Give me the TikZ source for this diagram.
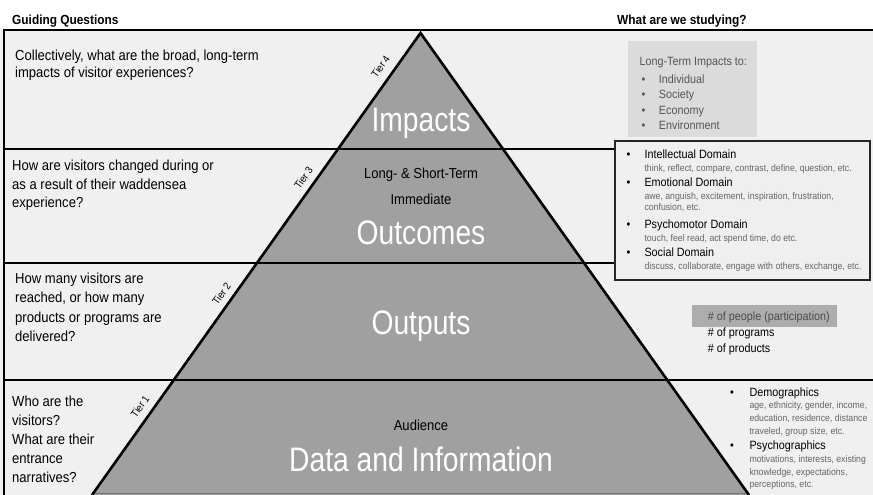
\documentclass[tikz,border=0pt]{standalone}
\usepackage{fontspec}
\setmainfont{Liberation Sans}[FakeStretch=0.9]
\newfontfamily\bigfont{Liberation Sans}[FakeStretch=0.83]
\definecolor{bg}{HTML}{F0F0F0}
\definecolor{pyr}{HTML}{A0A0A0}
\definecolor{dombox}{HTML}{EFEFEF}
\definecolor{ltbox}{HTML}{DBDBDB}
\definecolor{ltxt}{HTML}{555555}
\definecolor{smalltxt}{HTML}{666666}
\definecolor{pbox}{HTML}{ADADAD}
\definecolor{ptxt}{HTML}{4A4A4A}
\begin{document}
\begin{tikzpicture}[x=1bp,y=-1bp,
  tierline/.style={line width=2.8bp,black},
  edgeline/.style={line width=2.6bp,black},
  body/.style={anchor=base west,inner sep=0,font=\fontsize{14.5bp}{17bp}\selectfont},
  head/.style={anchor=base west,inner sep=0,font=\fontsize{13.2bp}{15bp}\selectfont\bfseries},
  big/.style={anchor=base,inner sep=0,text=white,font=\fontsize{34bp}{40bp}\bigfont},
  mid/.style={anchor=base,inner sep=0,font=\fontsize{14.5bp}{17bp}\selectfont},
  tierlbl/.style={inner sep=0,rotate=54.6,font=\fontsize{10.5bp}{12bp}\selectfont},
  rt/.style={anchor=base west,inner sep=0,font=\fontsize{12bp}{14bp}\selectfont},
  sm/.style={anchor=base west,inner sep=0,text=smalltxt,font=\fontsize{9.7bp}{11bp}\selectfont},
  bul/.style={anchor=base,inner sep=0,font=\fontsize{12bp}{14bp}\selectfont}
]
\useasboundingbox (0,0) rectangle (873,495);
% backgrounds
\fill[bg] (0,30) rectangle (873,495);
\coordinate (apex) at (420.5,33);
\coordinate (bl) at (92,495);
\coordinate (br) at (749,495);
\fill[pyr] (apex) -- (bl) -- (br) -- cycle;
\draw[line width=0.8bp,black!55] (93,493.6) -- (748,493.6);
% row lines
\draw[tierline] (4,30) -- (873,30);
\draw[tierline] (4,149) -- (615,149);
\draw[tierline] (4,263) -- (615,263);
\draw[tierline] (4,380) -- (873,380);
\draw[tierline] (4,28.6) -- (4,495);
% pyramid edges
\draw[edgeline] (bl) -- (apex) -- (br);
% boxes on the right
\draw[line width=1.6bp,black!85,fill=dombox] (615,141) rectangle (870,280);
\fill[ltbox] (628,41) rectangle (757,137);
\fill[pbox] (692,305) rectangle (837,327);
% headings
\node[head] (hgq) at (12,25) {Guiding Questions};
\node[head] (hws) at (617,25) {What are we studying?};
% guiding questions
\node[body] (q4a) at (15,61) {Collectively, what are the broad, long-term};
\node[body] (q4b) at (15,77.5) {impacts of visitor experiences?};
\node[body] (q3a) at (12,170.7) {How are visitors changed during or};
\node[body] (q3b) at (12,189.3) {as a result of their waddensea};
\node[body] (q3c) at (12,207.8) {experience?};
\node[body] (q2a) at (15,284) {How many visitors are};
\node[body] (q2b) at (15,303) {reached, or how many};
\node[body] (q2c) at (15,322.5) {products or programs are};
\node[body] (q2d) at (15,341.7) {delivered?};
\node[body] (q1a) at (12,406.6) {Who are the};
\node[body] (q1b) at (12,425.4) {visitors?};
\node[body] (q1c) at (12,444.8) {What are their};
\node[body] (q1d) at (12,463.6) {entrance};
\node[body] (q1e) at (12,482.6) {narratives?};
% tier labels
\node[tierlbl] (t4) at (380.5,66.5) {Tier 4};
\node[tierlbl] (t3) at (303.5,178) {Tier 3};
\node[tierlbl] (t2) at (221.5,294) {Tier 2};
\node[tierlbl] (t1) at (140,406.5) {Tier 1};
% pyramid texts
\node[big] (impacts) at (421,131.7) {Impacts};
\node[mid] (lst) at (421,178.3) {Long- \& Short-Term};
\node[mid] (imm) at (421,205) {Immediate};
\node[big] (outcomes) at (421,245) {Outcomes};
\node[big] (outputs) at (421,335) {Outputs};
\node[mid] (aud) at (421,430.7) {Audience};
\node[big] (data) at (421,471.7) {Data and Information};
% long-term impacts box
\node[rt,text=ltxt] (lt0) at (639.3,66) {Long-Term Impacts to:};
\node[bul,text=ltxt] (lb1) at (643.5,83.3) {•};
\node[rt,text=ltxt] (lt1) at (658.7,83.3) {Individual};
\node[bul,text=ltxt] (lb2) at (643.5,99) {•};
\node[rt,text=ltxt] (lt2) at (658.7,99) {Society};
\node[bul,text=ltxt] (lb3) at (643.5,114.5) {•};
\node[rt,text=ltxt] (lt3) at (658.7,114.5) {Economy};
\node[bul,text=ltxt] (lb4) at (643.5,130) {•};
\node[rt,text=ltxt] (lt4) at (658.7,130) {Environment};
% domains
\node[bul] (db1) at (628.5,158.3) {•};
\node[rt] (d1) at (644.3,158.3) {Intellectual Domain};
\node[sm] (d1s) at (644.3,171.7) {think, reflect, compare, contrast, define, question, etc.};
\node[bul] (db2) at (628.5,186.7) {•};
\node[rt] (d2) at (644.3,186.7) {Emotional Domain};
\node[sm] (d2s) at (644.3,200) {awe, anguish, excitement, inspiration, frustration,};
\node[sm] (d2t) at (644.3,211) {confusion, etc.};
\node[bul] (db3) at (628.5,228.3) {•};
\node[rt] (d3) at (644.3,228.3) {Psychomotor Domain};
\node[sm] (d3s) at (644.3,241.7) {touch, feel read, act spend time, do etc.};
\node[bul] (db4) at (628.5,256.7) {•};
\node[rt] (d4) at (644.3,256.7) {Social Domain};
\node[sm] (d4s) at (644.3,270) {discuss, collaborate, engage with others, exchange, etc.};
% outputs list
\node[rt,text=ptxt] (o1) at (707.7,320.7) {\# of people (participation)};
\node[rt] (o2) at (707.7,336.7) {\# of programs};
\node[rt] (o3) at (707.7,352.7) {\# of products};
% audience list
\node[bul] (ab1) at (732,396) {•};
\node[rt] (a1) at (749.3,396) {Demographics};
\node[sm] (a1s) at (749.3,408.3) {age, ethnicity, gender, income,};
\node[sm] (a1t) at (749.3,421.5) {education, residence, distance};
\node[sm] (a1u) at (749.3,434) {traveled, group size, etc.};
\node[bul] (ab2) at (732,449.3) {•};
\node[rt] (a2) at (749.3,449.3) {Psychographics};
\node[sm] (a2s) at (749.3,462.7) {motivations, interests, existing};
\node[sm] (a2t) at (749.3,475) {knowledge, expectations,};
\node[sm] (a2u) at (749.3,487.3) {perceptions, etc.};
\end{tikzpicture}
\end{document}
